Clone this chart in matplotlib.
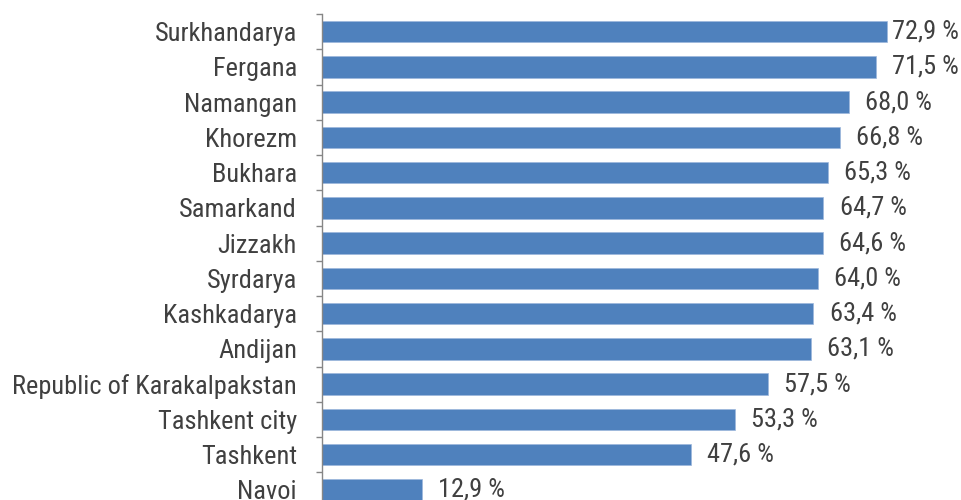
import matplotlib.pyplot as plt
import numpy as np

regions = ['Surkhandarya', 'Fergana', 'Namangan', 'Khorezm', 'Bukhara', 'Samarkand',
           'Jizzakh', 'Syrdarya', 'Kashkadarya', 'Andijan', 'Republic of Karakalpakstan',
           'Tashkent city', 'Tashkent', 'Navoi']
values = [72.9, 71.5, 68.0, 66.8, 65.3, 64.7, 64.6, 64.0, 63.4, 63.1, 57.5, 53.3, 47.6, 12.9]

plt.rcParams['font.family'] = ['Roboto Condensed', 'Roboto', 'DejaVu Sans']
text_col = '#404040'

fig = plt.figure(figsize=(9.61, 5.0), dpi=100)
# axes runs off the bottom edge, as in the original
ax = fig.add_axes([322/961, -7.6/500, 620/961, 493.6/500])

y = np.arange(len(regions))
ax.barh(y, values, height=0.61, color='#4F81BD', edgecolor='#9db7dc', linewidth=0.5)
ax.set_ylim(len(regions) - 0.5, -0.5)
ax.set_xlim(0, 80)

# labels sit a bit right of the bar end, but get pushed back in at the right edge
gap, label_w, right_lim = 2.1, 8.3, 82.2
for yi, v in zip(y, values):
    txt = f'{v:.1f} %'.replace('.', ',')
    if v + gap + label_w > right_lim:
        ax.text(right_lim, yi, txt, va='center', ha='right', fontsize=19,
                color=text_col, clip_on=False)
    else:
        ax.text(v + gap, yi, txt, va='center', ha='left', fontsize=19,
                color=text_col, clip_on=False)

ax.set_yticks(y)
ax.set_yticklabels(regions, fontsize=19, color=text_col)
ax.set_yticks(np.arange(len(regions) + 1) - 0.5, minor=True)
ax.tick_params(axis='y', which='major', length=0, pad=18)
ax.tick_params(axis='y', which='minor', length=4, width=1.0, color='#868686', direction='out')
ax.set_xticks([])

for s in ['top', 'right', 'bottom']:
    ax.spines[s].set_visible(False)
ax.spines['left'].set_color('#868686')
ax.spines['left'].set_linewidth(1.0)

fig.savefig('out.png', dpi=100)
